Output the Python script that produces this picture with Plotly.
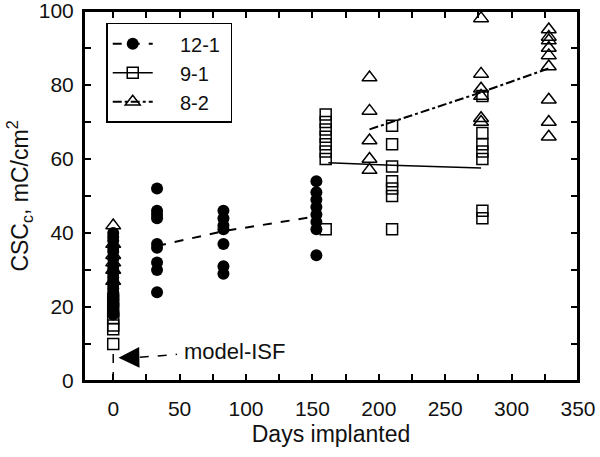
import plotly.graph_objects as go

# ---- data ----
s121_days = [0]*20 + [33]*9 + [83]*7 + [153]*8
s121_csc = [40, 39, 38, 36, 35, 33, 31, 30, 29, 28, 27, 26, 25, 24, 23, 22, 21, 20, 19, 18,
            52, 46, 45, 44, 37, 36, 32, 30, 24,
            46, 44, 42, 41, 37, 31, 29,
            54, 51, 49, 47, 45, 43, 41, 34]

s91_days = [0]*6 + [160]*8 + [210]*7 + [278]*7
s91_csc = [10, 14, 15, 17, 19, 22,
           72, 70, 68, 66, 64, 62, 60, 41,
           69, 64, 58, 54, 52, 50, 41,
           77, 67, 64, 62, 60, 46, 44]

s82_days = [0]*6 + [193]*5 + [277]*6 + [328]*9
s82_csc = [42, 37, 34, 32, 30, 27,
           82, 73, 65, 60, 57,
           98, 83, 79, 77, 71, 70,
           95, 93, 92, 90, 88, 85, 76, 70, 66]

# trend lines
fit121_days = [33, 83, 153]
fit121_csc = [36.5, 40.5, 44.5]
fit91_days = [162, 210, 277]
fit91_csc = [59, 58.3, 57.6]
fit82_days = [193, 277, 328]
fit82_csc = [68, 78, 84.5]

# model-ISF marker
isf_x = [0, 0]
isf_y = [0, 9]
isf_arrow_x = [20, 48]
isf_arrow_y = [6.4, 7.2]
isf_tip = (4, 6.3)
isf_label = (52, 8)

legend_names = ["12-1", "9-1", "8-2"]

BLACK = "black"
NB = "\u00a0"
fig = go.Figure()

# points
fig.add_trace(go.Scatter(x=s121_days, y=s121_csc, mode="markers", showlegend=False,
                         marker=dict(symbol="circle", size=12, color=BLACK)))
fig.add_trace(go.Scatter(x=s91_days, y=s91_csc, mode="markers", showlegend=False,
                         marker=dict(symbol="square-open", size=11, color=BLACK, line=dict(width=1.5))))
fig.add_trace(go.Scatter(x=s82_days, y=s82_csc, mode="markers", showlegend=False,
                         marker=dict(symbol="triangle-up-open", size=13, color=BLACK, line=dict(width=1.5))))

# lines
fig.add_trace(go.Scatter(x=fit121_days, y=fit121_csc, mode="lines", showlegend=False,
                         line=dict(color=BLACK, width=2, dash="dash")))
fig.add_trace(go.Scatter(x=fit91_days, y=fit91_csc, mode="lines", showlegend=False,
                         line=dict(color=BLACK, width=1.5)))
fig.add_trace(go.Scatter(x=fit82_days, y=fit82_csc, mode="lines", showlegend=False,
                         line=dict(color=BLACK, width=2, dash="dashdot")))

# model-ISF dashed lines
fig.add_trace(go.Scatter(x=isf_x, y=isf_y, mode="lines", showlegend=False,
                         line=dict(color=BLACK, width=1.5, dash="dash")))
fig.add_trace(go.Scatter(x=isf_arrow_x, y=isf_arrow_y, mode="lines", showlegend=False,
                         line=dict(color=BLACK, width=1.5, dash="dash")))

# legend entries
fig.add_trace(go.Scatter(x=[None], y=[None], mode="lines+markers", name=NB*4 + legend_names[0] + NB,
                         marker=dict(symbol="circle", size=12, color=BLACK),
                         line=dict(color=BLACK, width=2, dash="dash")))
fig.add_trace(go.Scatter(x=[None], y=[None], mode="lines+markers", name=NB*4 + legend_names[1] + NB,
                         marker=dict(symbol="square-open", size=11, color=BLACK, line=dict(width=1.5)),
                         line=dict(color=BLACK, width=1.5)))
fig.add_trace(go.Scatter(x=[None], y=[None], mode="lines+markers", name=NB*4 + legend_names[2] + NB,
                         marker=dict(symbol="triangle-up-open", size=13, color=BLACK, line=dict(width=1.5)),
                         line=dict(color=BLACK, width=2, dash="dashdot")))

fig.add_annotation(x=isf_tip[0], y=isf_tip[1], ax=isf_arrow_x[0], ay=isf_arrow_y[0],
                   axref="x", ayref="y", xref="x", yref="y", text="",
                   showarrow=True, arrowhead=2, arrowsize=3.2, arrowwidth=1.3, arrowcolor=BLACK)
fig.add_annotation(x=isf_label[0], y=isf_label[1], text="model-ISF", showarrow=False,
                   xanchor="left", yanchor="middle", font=dict(size=22, color="#111"))

# plot frame
fig.add_shape(type="rect", xref="paper", yref="paper", x0=0, x1=1, y0=0, y1=1,
              line=dict(color=BLACK, width=2), layer="above")

axis_common = dict(showline=True, linecolor=BLACK, linewidth=2, mirror="allticks",
                   ticks="inside", ticklen=7, tickwidth=1.5, tickcolor=BLACK,
                   showgrid=False, zeroline=False, automargin=False,
                   ticklabeloverflow="allow",
                   tickfont=dict(size=21, color="#111"))

fig.update_xaxes(range=[-22, 350], dtick=50, tick0=0, ticklabelstandoff=8,
                 minor=dict(ticks="inside", dtick=25, ticklen=7, tickwidth=1.5, tickcolor=BLACK, showgrid=False),
                 title=dict(text="Days implanted", font=dict(size=23, color="#111"), standoff=7),
                 **axis_common)
fig.update_yaxes(range=[0, 100], dtick=20, tick0=0, ticklabelstandoff=4,
                 minor=dict(ticks="inside", dtick=10, ticklen=7, tickwidth=1.5, tickcolor=BLACK, showgrid=False),
                 title=dict(text="CSC<sub>c</sub>, mC/cm<sup>2</sup>", font=dict(size=23, color="#111"), standoff=4),
                 **axis_common)

fig.update_layout(
    width=600, height=457,
    margin=dict(l=84, r=22, t=11, b=76, autoexpand=False),
    paper_bgcolor="white", plot_bgcolor="white",
    font=dict(family="Liberation Sans, Arial, sans-serif", color="#111"),
    legend=dict(x=0.045, y=0.968, xanchor="left", yanchor="top",
                bgcolor="white", bordercolor=BLACK, borderwidth=1.5,
                font=dict(size=20, color="#111"), itemwidth=40, tracegroupgap=0),
)

fig.write_html("out.html", config={"displayModeBar": False},
               post_script="document.body.style.margin='0';document.body.style.overflow='hidden';")
